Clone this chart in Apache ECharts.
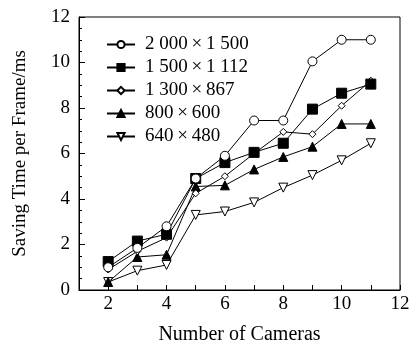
<!DOCTYPE html>
<html><head><meta charset="utf-8">
<script src="https://cdn.jsdelivr.net/npm/echarts@6/dist/echarts.min.js"></script>
<style>html,body{margin:0;padding:0;background:#fff}#c{width:409px;height:346px}</style>
</head><body><div id="c"></div>
<script>
const cameras = [2,3,4,5,6,7,8,9,10,11];
const names = ['2 000\u2009\u00d7\u20091 500','1 500\u2009\u00d7\u20091 112','1 300\u2009\u00d7\u2009867','800\u2009\u00d7\u2009600','640\u2009\u00d7\u2009480'];
const s2000 = [1.0,1.85,2.8,4.9,5.9,7.45,7.45,10.05,11.0,11.0];
const s1500 = [1.25,2.15,2.45,4.9,5.6,6.05,6.45,7.95,8.65,9.05];
const s1300 = [0.9,1.7,2.3,4.25,5.0,6.0,6.95,6.85,8.1,9.2];
const s800 = [0.35,1.45,1.55,4.55,4.6,5.3,5.85,6.3,7.3,7.3];
const s640 = [0.35,0.85,1.1,3.3,3.45,3.85,4.5,5.05,5.7,6.45];
const yTicks = [0,2,4,6,8,10,12];
const xTickLabels = [2,4,6,8,10,12];

const font = 'Liberation Serif, DejaVu Serif, serif';
const styles = [
  {symbol:'circle', size:9, fill:'#fff', rot:0},
  {symbol:'rect', size:10, fill:'#000', rot:0},
  {symbol:'diamond', size:7, fill:'#fff', rot:0},
  {symbol:'triangle', size:9, fill:'#000', rot:0},
  {symbol:'triangle', size:9, fill:'#fff', rot:180}
];
const values = [s2000,s1500,s1300,s800,s640];
const series = values.map((v,i)=>({
  name:names[i], type:'line',
  data: cameras.map((c,j)=>[c,v[j]]),
  symbol: styles[i].symbol, symbolSize: styles[i].size, symbolRotate: styles[i].rot,
  lineStyle:{color:'#000', width:1},
  itemStyle:{color:styles[i].fill, borderColor:'#000', borderWidth:1},
  emphasis:{disabled:true}, animation:false, z: 10-i
}));
const chart = echarts.init(document.getElementById('c'), null, {renderer:'canvas'});
chart.setOption({
  animation:false,
  grid:{left:79, right:9, top:17, bottom:56, containLabel:false, outerBoundsMode:'none',
    show:true, borderColor:'#000', borderWidth:1, backgroundColor:'transparent'},
  legend:{
    orient:'vertical', left:101, top:30, itemWidth:28, itemHeight:9, itemGap:4,
    data:names,
    textStyle:{fontFamily:font, fontSize:19, color:'#000', padding:[0,0,0,5]},
    inactiveColor:'#000'
  },
  xAxis:{
    type:'value', min:1, max:12, interval:1,
    name:'Number of Cameras', nameLocation:'middle', nameGap:35,
    nameTextStyle:{fontFamily:font, fontSize:20, color:'#000'},
    axisLine:{lineStyle:{color:'#000', width:1}},
    axisTick:{inside:true, length:5, lineStyle:{color:'#000'}},
    axisLabel:{fontFamily:font, fontSize:19, color:'#000', margin:5,
      formatter: v => xTickLabels.indexOf(v) >= 0 ? String(v) : ''},
    splitLine:{show:false}
  },
  yAxis:{
    type:'value', min:0, max:12, interval:2,
    name:'Saving Time per Frame/ms', nameLocation:'middle', nameGap:49,
    nameTextStyle:{fontFamily:font, fontSize:19, color:'#000'},
    axisLine:{show:true, lineStyle:{color:'#000', width:1}},
    axisTick:{inside:true, length:6, lineStyle:{color:'#000'}},
    minorTick:{show:true, splitNumber:4, length:3, lineStyle:{color:'#000'}},
    axisLabel:{fontFamily:font, fontSize:19, color:'#000', margin:9,
      formatter: v => yTicks.indexOf(v) >= 0 ? String(v) : ''},
    splitLine:{show:false}
  },
  series: series
});
</script></body></html>
